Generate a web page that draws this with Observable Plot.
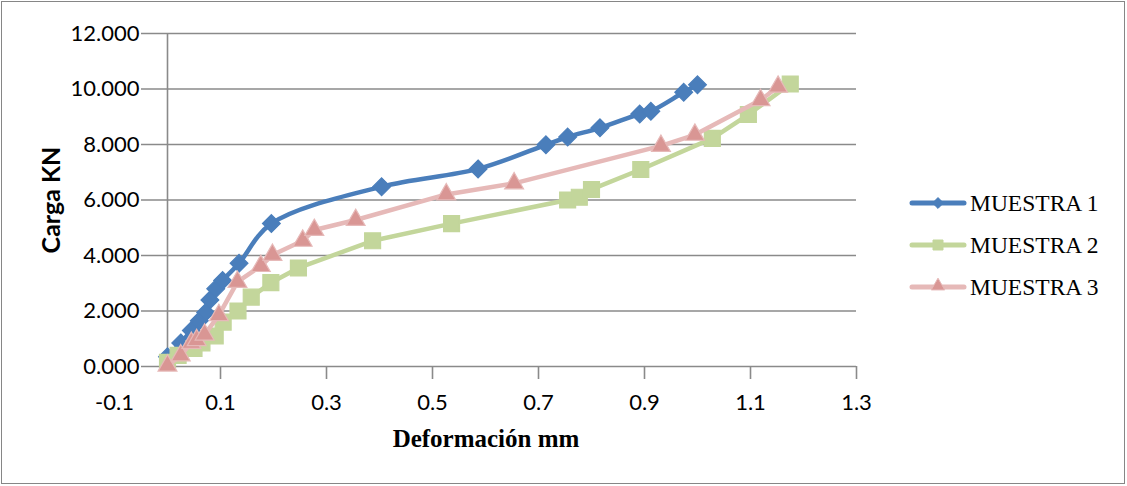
<!DOCTYPE html>
<html>
<head>
<meta charset="utf-8">
<script src="https://cdn.jsdelivr.net/npm/d3@7"></script>
<script src="https://cdn.jsdelivr.net/npm/@observablehq/plot@0.6"></script>
<style>
  html, body { margin: 0; padding: 0; background: #fff; }
  #wrap { position: relative; width: 1127px; height: 486px; overflow: hidden; }
  #border { position: absolute; left: 1px; top: 1px; width: 1122px; height: 481px; border: 1px solid #868686; pointer-events: none; }
  #legend { position: absolute; left: 908px; top: 0; font-family: "Liberation Serif", "Times New Roman", serif; font-size: 23.5px; color: #000; }
  .item { position: absolute; left: 0; height: 30px; display: flex; align-items: center; white-space: nowrap; }
  .item svg { display: block; margin-right: 2px; }
  #xtitle { position: absolute; left: 486px; top: 438px; transform: translate(-50%, -50%); font-family: "Liberation Serif", "Times New Roman", serif; font-weight: bold; font-size: 25px; color: #000; white-space: nowrap; line-height: 1; }
</style>
</head>
<body>
<div id="wrap"><div id="chart"></div><div id="legend"></div><div id="xtitle"></div><div id="border"></div></div>
<script>
// ---- data ----
const seriesNames = ["MUESTRA 1", "MUESTRA 2", "MUESTRA 3"];

const muestra1X = [0, 0.025, 0.045, 0.06, 0.072, 0.08, 0.091, 0.104, 0.135, 0.196, 0.404, 0.586, 0.714, 0.755, 0.816, 0.891, 0.912, 0.974, 1.0];
const muestra1Y = [0.35, 0.85, 1.3, 1.65, 1.95, 2.4, 2.8, 3.1, 3.72, 5.15, 6.48, 7.12, 7.99, 8.27, 8.6, 9.1, 9.2, 9.88, 10.15];

const muestra2X = [0, 0.02, 0.05, 0.065, 0.09, 0.105, 0.133, 0.158, 0.195, 0.247, 0.387, 0.536, 0.755, 0.777, 0.8, 0.893, 1.028, 1.096, 1.175];
const muestra2Y = [0.15, 0.4, 0.65, 0.85, 1.1, 1.6, 2.0, 2.5, 3.02, 3.55, 4.53, 5.15, 6.0, 6.1, 6.38, 7.1, 8.22, 9.08, 10.18];

const muestra3X = [0, 0.025, 0.045, 0.055, 0.07, 0.097, 0.132, 0.176, 0.198, 0.255, 0.277, 0.355, 0.526, 0.654, 0.931, 0.995, 1.119, 1.152];
const muestra3Y = [0.03, 0.4, 0.85, 0.95, 1.15, 1.85, 3.05, 3.62, 4.02, 4.53, 4.92, 5.28, 6.2, 6.6, 7.95, 8.35, 9.6, 10.08];

const xTicks = [-0.1, 0.1, 0.3, 0.5, 0.7, 0.9, 1.1, 1.3];
const xTickMarks = [0.1, 0.3, 0.5, 0.7, 0.9, 1.1, 1.3];
const yTicks = [0, 2, 4, 6, 8, 10, 12];

const xTitle = "Deformación mm";
const yTitle = "Carga KN";

// ---- styles ----
const colors = {
  line: ["#4a7ebb", "#c3d69b", "#e6b9b8"],
  fill: ["#4a7ebb", "#c3d69b", "#d99694"],
  stroke: ["#4a7ebb", "#c3d69b", "#e6b9b8"]
};
const symbols = ["diamond2", "square", "triangle"];
const radii = [8, 9, 7];
const curves = ["catmull-rom", "linear", "linear"];

const toRows = (xs, ys) => xs.map((x, i) => ({x, y: ys[i]}));
const series = [toRows(muestra1X, muestra1Y), toRows(muestra2X, muestra2Y), toRows(muestra3X, muestra3Y)];

const gridColor = "#8a8a8a";
const sansFont = "Lato, 'Open Sans', sans-serif";

const seriesMarks = series.flatMap((rows, k) => [
  Plot.line(rows, {x: "x", y: "y", stroke: colors.line[k], strokeWidth: 4.5, curve: curves[k], strokeLinecap: "round", strokeLinejoin: "round"}),
  Plot.dot(rows, {x: "x", y: "y", symbol: () => symbols[k], r: radii[k], fill: colors.fill[k], stroke: colors.stroke[k], strokeWidth: 1.2})
]);

const chart = Plot.plot({
  width: 1127,
  height: 486,
  marginLeft: 114,
  marginRight: 271,
  marginTop: 33,
  marginBottom: 120,
  x: {domain: [-0.1, 1.3], axis: null},
  y: {domain: [0, 12], axis: null},
  symbol: {type: "identity"},
  style: {background: "transparent", color: "#000"},
  marks: [
    Plot.ruleY(yTicks, {x1: 0, x2: 1.3, insetLeft: -26, stroke: gridColor, strokeWidth: 1.6}),
    Plot.ruleX([0], {y1: 0, y2: 12, stroke: gridColor, strokeWidth: 1.6}),
    Plot.ruleX(xTickMarks, {y1: 0, y2: 0, insetBottom: -13, stroke: gridColor, strokeWidth: 1.6}),
    Plot.text(yTicks, {x: 0, y: d => d, dx: -28, textAnchor: "end", lineAnchor: "middle", text: d => d.toFixed(3), fontSize: 22, fontFamily: sansFont, fill: "#000"}),
    Plot.text(xTicks, {x: d => d, frameAnchor: "bottom", lineAnchor: "middle", dy: 36.5, text: d => d.toFixed(1), fontSize: 22, fontFamily: sansFont, fill: "#000"}),
    Plot.text([yTitle], {frameAnchor: "left", textAnchor: "middle", lineAnchor: "middle", dx: -63, rotate: -90, text: d => d, fontSize: 25, fontWeight: "bold", fontFamily: sansFont, fill: "#000"}),
    ...seriesMarks
  ]
});
document.getElementById("chart").appendChild(chart);
document.getElementById("xtitle").textContent = xTitle;

// ---- legend ----
const legend = d3.select("#legend");
const rowCenters = [203, 245, 287];
seriesNames.forEach((name, k) => {
  const item = legend.append("div").attr("class", "item").style("top", (rowCenters[k] - 15) + "px");
  const svg = item.append("svg").attr("width", 60).attr("height", 30);
  svg.append("line").attr("x1", 4).attr("x2", 56).attr("y1", 15).attr("y2", 15)
    .attr("stroke", colors.line[k]).attr("stroke-width", 5).attr("stroke-linecap", "round");
  const symType = [d3.symbolDiamond2, d3.symbolSquare, d3.symbolTriangle][k];
  const size = [75, 100, 80][k];
  svg.append("path").attr("d", d3.symbol(symType, size)()).attr("transform", `translate(30,${k === 2 ? 14 : 15})`)
    .attr("fill", colors.fill[k]).attr("stroke", colors.stroke[k]).attr("stroke-width", 1);
  item.append("span").text(name);
});
</script>
</body>
</html>
